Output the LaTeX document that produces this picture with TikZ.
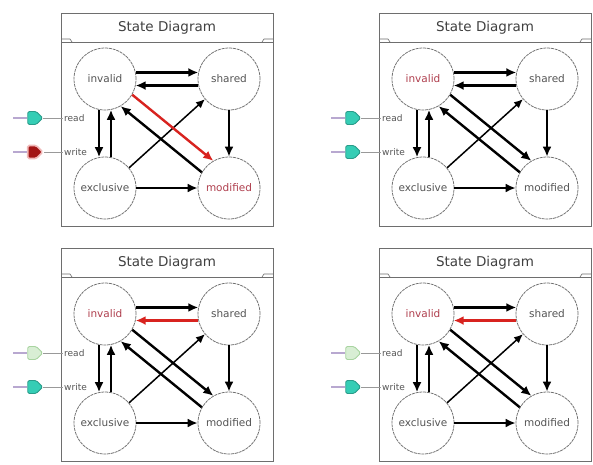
\documentclass[tikz,border=0pt]{standalone}
\usepackage{fontspec}
\setmainfont{DejaVu Sans}
\usetikzlibrary{arrows.meta,shapes.symbols}
\definecolor{txt}{HTML}{555555}
\definecolor{redtxt}{HTML}{B0404F}
\definecolor{redarr}{HTML}{D8231F}
\definecolor{tealc}{HTML}{35CDB5}
\definecolor{tealb}{HTML}{2A9C8A}
\definecolor{darkredc}{HTML}{A31515}
\definecolor{pinkb}{HTML}{F0B8B8}
\definecolor{palegreen}{HTML}{D8EED4}
\definecolor{palegreenb}{HTML}{A8D4A0}
\definecolor{framec}{HTML}{6E6E6E}
\definecolor{stubc}{HTML}{B8A8D0}
\tikzset{
  x=1pt, y=-1pt,
  state/.style={circle, draw=framec, line width=0.75pt, dash pattern=on 3pt off 0.8pt,
    minimum size=62pt, inner sep=0pt, font=\fontsize{10.5}{12}\selectfont},
  tr/.style={line width=2.4pt, -{Latex[length=10pt,width=9pt]}},
  thintr/.style={line width=1.5pt, -{Latex[length=9pt,width=8pt]}},
  frameline/.style={draw=framec, line width=0.8pt},
  ind/.style={signal, signal to=east, minimum width=15pt, minimum height=13pt,
    inner sep=0pt, line width=0.9pt, rounded corners=1.5pt},
  onind/.style={ind, fill=tealc, draw=tealb},
  redind/.style={ind, fill=darkredc, draw=pinkb, line width=1.6pt},
  offind/.style={ind, fill=palegreen, draw=palegreenb},
  sig/.style={font=\fontsize{9}{10}\selectfont, text=txt, anchor=west, inner sep=1pt},
  sigline/.style={draw=framec!70, line width=0.5pt},
  stubline/.style={draw=stubc, line width=1.2pt},
  title/.style={font=\fontsize{13.5}{15}\selectfont, text=black!75}
}
% #1 x, #2 y, #3 suffix, #4 invalid text colour, #5 modified text colour,
% #6 colour of invalid->modified, #7 colour of shared->invalid, #8 read style, #9 write style
\newcommand\statepanel[9]{%
\begin{scope}[shift={(#1,#2)}]
  \draw[frameline] (61,226) -- (61,13) -- (273,13) -- (273,226) -- cycle;
  \draw[frameline] (61,42) -- (273,42);
  \draw[frameline, line width=0.6pt] (61,39) -- (70,39) -- (72,42);
  \draw[frameline, line width=0.6pt] (273,39) -- (264,39) -- (262,42);
  \node[title] (t#3) at (167,28) {State Diagram};
  \node[state, text=#4] (i#3) at (105,79) {invalid};
  \node[state, text=txt] (s#3) at (229,79) {shared};
  \node[state, text=txt] (e#3) at (105,188) {exclusive};
  \node[state, text=#5] (m#3) at (229,188) {modified};
  \draw[tr] (i#3.12) -- (s#3.168);
  \draw[tr, draw=#7, color=#7] (s#3.192) -- (i#3.348);
  \draw[tr] (i#3.259) -- (e#3.101);
  \draw[tr] (e#3.79) -- (i#3.281);
  \draw[tr] (s#3.270) -- (m#3.90);
  \draw[tr] (e#3.0) -- (m#3.180);
  \draw[thintr] (e#3.40) -- (s#3.220);
  \draw[tr] (m#3.150) -- (i#3.-60);
  \draw[tr, draw=#6, color=#6] (i#3.-30) -- (m#3.120);
  % inputs
  \coordinate (rs#3) at (13,118);
  \coordinate (ws#3) at (13,152);
  \node[#8] (ri#3) at (32,118) {};
  \node[#9] (wi#3) at (32,152) {};
  \node[sig] (rl#3) at (63,118) {read};
  \node[sig] (wl#3) at (63,152) {write};
  \draw[stubline] (rs#3) -- (ri#3.west);
  \draw[stubline] (ws#3) -- (wi#3.west);
  \draw[sigline] (ri#3.east) -- (rl#3.west);
  \draw[sigline] (wi#3.east) -- (wl#3.west);
\end{scope}}
\begin{document}
\begin{tikzpicture}
  \useasboundingbox[fill=white] (0,0) rectangle (593,464);
  \statepanel{0}{0}{a}{txt}{redtxt}{redarr}{black}{onind}{redind}
  \statepanel{318}{0}{b}{redtxt}{txt}{black}{black}{onind}{onind}
  \statepanel{0}{235}{c}{redtxt}{txt}{black}{redarr}{offind}{onind}
  \statepanel{318}{235}{d}{redtxt}{txt}{black}{redarr}{offind}{onind}
\end{tikzpicture}
\end{document}
